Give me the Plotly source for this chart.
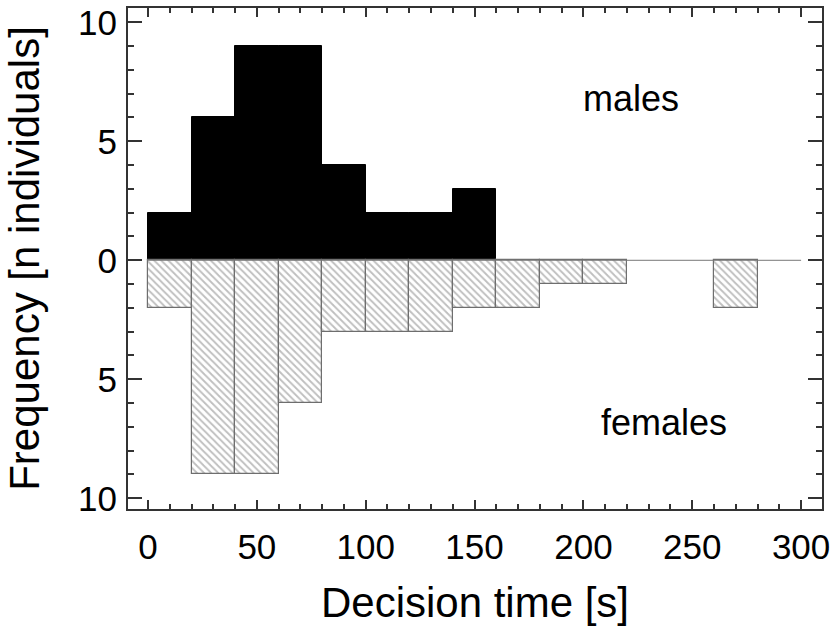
import plotly.graph_objects as go

bin_left = [0, 20, 40, 60, 80, 100, 120, 140, 160, 180, 200, 220, 240, 260, 280]
males = [2, 6, 9, 9, 4, 2, 2, 3, 0, 0, 0, 0, 0, 0, 0]
females = [2, 9, 9, 6, 3, 3, 3, 2, 2, 1, 1, 0, 0, 2, 0]
bin_width = 20
x_ticks = [0, 50, 100, 150, 200, 250, 300]
y_ticks = [-10, -5, 0, 5, 10]
y_tick_labels = ["10", "5", "0", "5", "10"]

centers = [b + bin_width / 2 for b in bin_left]
fm_x = [c for c, v in zip(centers, females) if v > 0]
fm_y = [-v for v in females if v > 0]
m_x = [c for c, v in zip(centers, males) if v > 0]
m_y = [v for v in males if v > 0]

font_family = "Liberation Sans, Arial, sans-serif"

fig = go.Figure()
fig.add_trace(go.Bar(
    x=m_x, y=m_y, width=bin_width,
    marker=dict(color="black", line=dict(color="black", width=1)),
    name="males", showlegend=False,
))
fig.add_trace(go.Bar(
    x=fm_x, y=fm_y, width=bin_width,
    marker=dict(
        color="white",
        line=dict(color="#6e6e6e", width=1.2),
        pattern=dict(shape="\\", fgcolor="#808080", bgcolor="white", size=5, solidity=0.38),
    ),
    name="females", showlegend=False,
))

fig.add_shape(type="line", x0=0, x1=300, y0=0, y1=0, xref="x", yref="y",
              line=dict(color="#777777", width=1))

fig.add_annotation(x=222, y=6.8, text="males", showarrow=False,
                   font=dict(size=36, color="black", family=font_family))
fig.add_annotation(x=237, y=-6.8, text="females", showarrow=False,
                   font=dict(size=36, color="black", family=font_family))

fig.update_layout(
    width=834, height=628,
    margin=dict(l=128, r=12, t=8, b=119, autoexpand=False),
    plot_bgcolor="white", paper_bgcolor="white",
    barmode="overlay", bargap=0,
    font=dict(family=font_family, color="black"),
)
fig.update_xaxes(
    range=[-9.2, 309.6],
    tickvals=x_ticks,
    ticks="inside", ticklen=9, tickwidth=2, tickcolor="#333333",
    minor=dict(dtick=10, ticks="inside", ticklen=5, tickwidth=1.5, tickcolor="#333333"),
    showline=True, linecolor="#333333", linewidth=2, mirror="allticks",
    showgrid=False, zeroline=False, automargin=False,
    tickfont=dict(size=35, family=font_family),
    ticklabelstandoff=6,
    title=dict(text="Decision time [s]", font=dict(size=42, family=font_family), standoff=23),
)
fig.update_yaxes(
    range=[-10.45, 10.6],
    tickvals=y_ticks, ticktext=y_tick_labels,
    ticks="inside", ticklen=14, tickwidth=2, tickcolor="#333333",
    minor=dict(dtick=1, ticks="inside", ticklen=6, tickwidth=1.5, tickcolor="#333333"),
    showline=True, linecolor="#333333", linewidth=2, mirror="allticks",
    showgrid=False, zeroline=False, automargin=False,
    tickfont=dict(size=35, family=font_family),
    ticklabelstandoff=2,
    title=dict(text="Frequency [n individuals]", font=dict(size=42, family=font_family), standoff=25),
)

fig.write_html(
    "out.html",
    config={"displayModeBar": False},
    post_script="document.body.style.margin='0';document.body.style.overflow='hidden';",
)
